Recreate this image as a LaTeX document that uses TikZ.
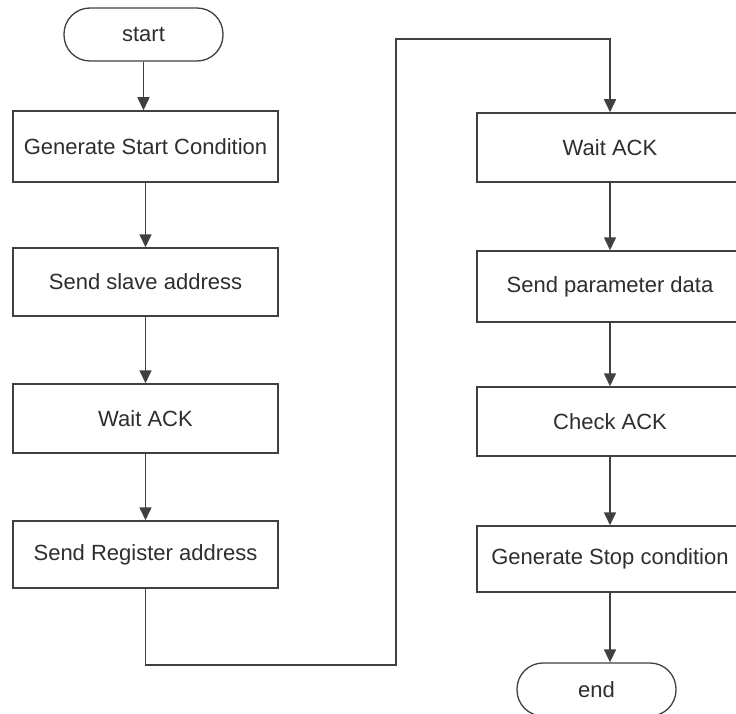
\documentclass[tikz,border=0pt]{standalone}
\usepackage{fontspec}
\setmainfont{Liberation Sans}
\usetikzlibrary{arrows.meta}
\definecolor{linec}{HTML}{404040}
\definecolor{textc}{HTML}{2E2E2E}
\tikzset{
  box/.style={draw=linec, line width=1.5pt, fill=white, text=textc, minimum width=265pt, inner sep=0pt, font=\fontsize{22pt}{26pt}\selectfont},
  term/.style={draw=linec, line width=1.3pt, fill=white, text=textc, rounded corners=26pt, minimum width=159pt, minimum height=53pt, inner sep=0pt, font=\fontsize{22pt}{26pt}\selectfont},
  arr/.style={draw=linec, line width=1.6pt, -{Triangle[width=12pt,length=13pt]}},
}
\begin{document}
\begin{tikzpicture}[x=1pt,y=-1pt]
\useasboundingbox (0,0) rectangle (736,714);
\fill[white] (0,0) rectangle (736,714);
% left column
\node[term] (start) at (143.5,34.5) {start};
\node[box, minimum height=71pt] (gsc) at (145.5,146.5) {Generate Start Condition};
\node[box, minimum height=68pt] (ssa) at (145.5,282) {Send slave address};
\node[box, minimum height=69pt] (wa1) at (145.5,418.5) {Wait ACK};
\node[box, minimum height=67pt] (sra) at (145.5,554.5) {Send Register address};
% right column
\node[box, minimum height=69pt, minimum width=266pt] (wa2) at (610,147.5) {Wait ACK};
\node[box, minimum height=71pt, minimum width=266pt] (spd) at (610,286.5) {Send parameter data};
\node[box, minimum height=69pt, minimum width=266pt] (cka) at (610,421.5) {Check ACK};
\node[box, minimum height=66pt, minimum width=266pt] (gsp) at (610,559) {Generate Stop condition};
\node[term] (endn) at (596.5,689.5) {end};
% loop corners
\coordinate (lo) at (396,665);
\coordinate (hi) at (396,39);
% connectors
\draw[arr] (start.south) -- (start.south |- gsc.north);
\draw[arr] (gsc) -- (ssa);
\draw[arr] (ssa) -- (wa1);
\draw[arr] (wa1) -- (sra);
\draw[arr] (sra.south) |- (lo) -- (hi) -| (wa2.north);
\draw[arr] (wa2) -- (spd);
\draw[arr] (spd) -- (cka);
\draw[arr] (cka) -- (gsp);
\draw[arr] (gsp.south) -- (gsp.south |- endn.north);
\end{tikzpicture}
\end{document}
